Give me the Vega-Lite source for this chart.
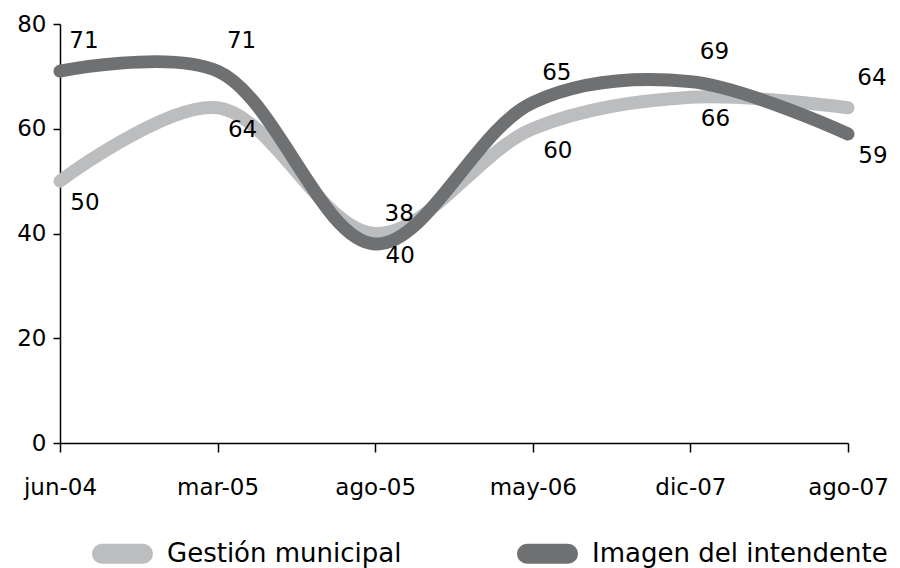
{
  "$schema": "https://vega.github.io/schema/vega-lite/v6.json",
  "width": 788,
  "height": 419,
  "autosize": {"type": "none"},
  "padding": {"left": 60, "top": 24, "right": 52, "bottom": 125},
  "background": "white",
  "config": {
    "font": "DejaVu Sans",
    "view": {"stroke": null},
    "axis": {
      "domainColor": "black",
      "domainWidth": 1.5,
      "tickColor": "black",
      "tickWidth": 1.5,
      "grid": false,
      "labelColor": "black",
      "labelFont": "DejaVu Sans",
      "labelFontSize": 23,
      "title": null
    }
  },
  "data": {
    "values": [
      {"fecha": "jun-04", "serie": "Gestión municipal", "valor": 50},
      {"fecha": "mar-05", "serie": "Gestión municipal", "valor": 64},
      {"fecha": "ago-05", "serie": "Gestión municipal", "valor": 40},
      {"fecha": "may-06", "serie": "Gestión municipal", "valor": 60},
      {"fecha": "dic-07", "serie": "Gestión municipal", "valor": 66},
      {"fecha": "ago-07", "serie": "Gestión municipal", "valor": 64},
      {"fecha": "jun-04", "serie": "Imagen del intendente", "valor": 71},
      {"fecha": "mar-05", "serie": "Imagen del intendente", "valor": 71},
      {"fecha": "ago-05", "serie": "Imagen del intendente", "valor": 38},
      {"fecha": "may-06", "serie": "Imagen del intendente", "valor": 65},
      {"fecha": "dic-07", "serie": "Imagen del intendente", "valor": 69},
      {"fecha": "ago-07", "serie": "Imagen del intendente", "valor": 59}
    ]
  },
  "encoding": {
    "x": {
      "field": "fecha",
      "type": "ordinal",
      "sort": ["jun-04", "mar-05", "ago-05", "may-06", "dic-07", "ago-07"],
      "scale": {"type": "point", "padding": 0},
      "axis": {"labelAngle": 0, "tickSize": 9, "labelPadding": 24}
    },
    "y": {
      "field": "valor",
      "type": "quantitative",
      "scale": {"domain": [0, 80], "nice": false},
      "axis": {"values": [0, 20, 40, 60, 80], "tickSize": 7, "labelPadding": 7}
    }
  },
  "layer": [
    {
      "mark": {"type": "line", "interpolate": "catmull-rom", "strokeWidth": 13, "strokeCap": "round", "strokeJoin": "round"},
      "encoding": {
        "color": {
          "field": "serie",
          "type": "nominal",
          "scale": {"domain": ["Gestión municipal", "Imagen del intendente"], "range": ["#bcbdbf", "#6f7072"]},
          "legend": {
            "title": null,
            "orient": "none",
            "direction": "horizontal",
            "legendX": 32,
            "legendY": 499,
            "symbolType": "stroke",
            "symbolSize": 1681,
            "symbolStrokeWidth": 20,
            "labelFont": "DejaVu Sans",
            "labelFontSize": 26,
            "labelLimit": 500,
            "labelColor": "black",
            "labelOffset": 14,
            "columnPadding": 85,
            "encode": {"symbols": {"update": {"strokeCap": {"value": "round"}}}}
          }
        }
      }
    },
    {
      "transform": [
        {"filter": "(datum.serie === 'Imagen del intendente' && datum.fecha !== 'ago-07') || (datum.serie === 'Gestión municipal' && datum.fecha === 'ago-07')"}
      ],
      "mark": {"type": "text", "dx": 24, "dy": -30, "fontSize": 23, "color": "black", "font": "DejaVu Sans"},
      "encoding": {"text": {"field": "valor", "type": "quantitative"}}
    },
    {
      "transform": [
        {"filter": "(datum.serie === 'Gestión municipal' && datum.fecha !== 'ago-07') || (datum.serie === 'Imagen del intendente' && datum.fecha === 'ago-07')"}
      ],
      "mark": {"type": "text", "dx": 25, "dy": 22, "fontSize": 23, "color": "black", "font": "DejaVu Sans"},
      "encoding": {"text": {"field": "valor", "type": "quantitative"}}
    }
  ]
}
